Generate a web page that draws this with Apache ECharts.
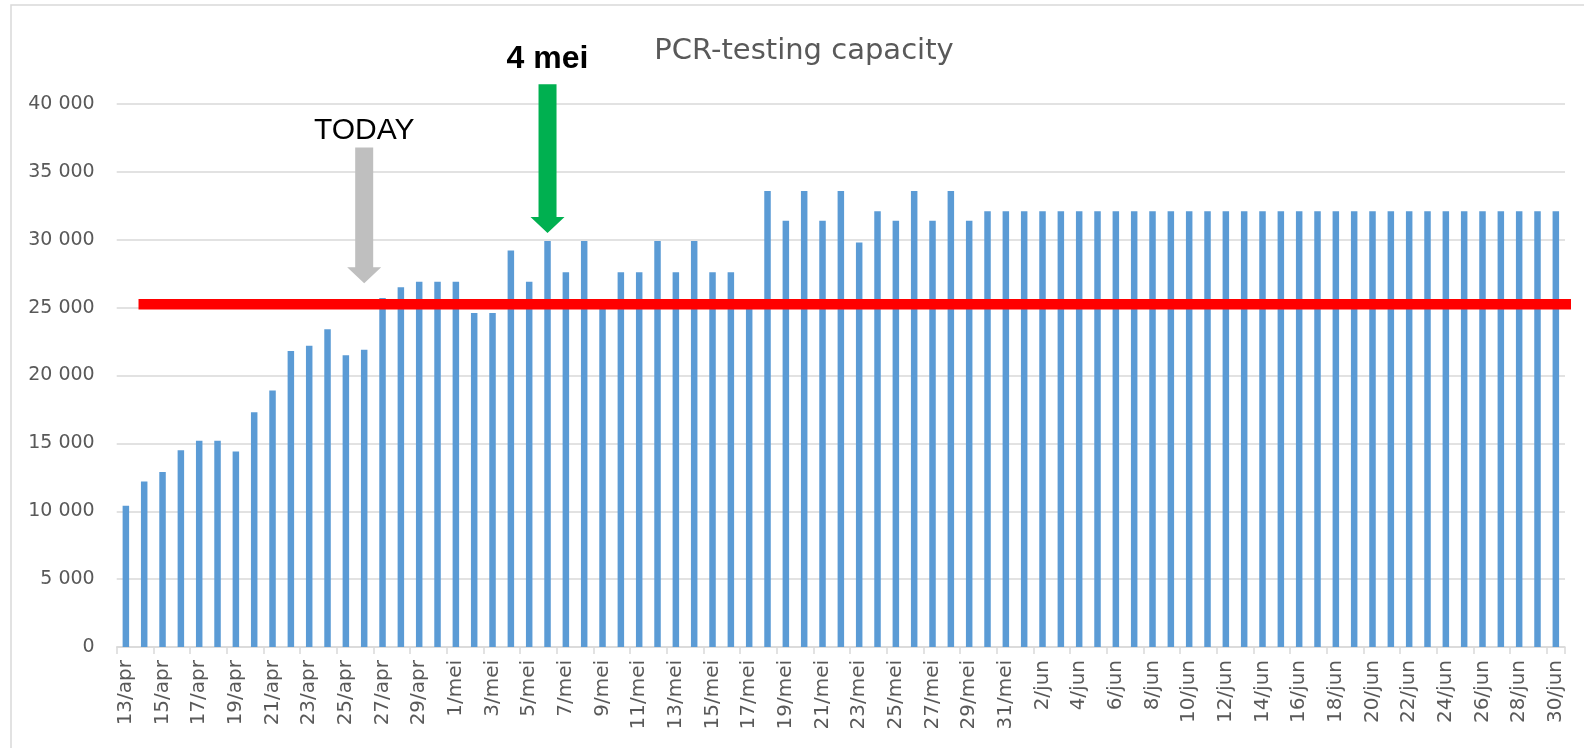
<!DOCTYPE html>
<html>
<head>
<meta charset="utf-8">
<script src="https://cdn.jsdelivr.net/npm/echarts@6/dist/echarts.min.js"></script>
<style>
html,body{margin:0;padding:0;background:#fff;}
#chart{width:1584px;height:748px;}
</style>
</head>
<body>
<div id="chart"></div>
<script>
// ---- data ----
const categories = [
  '13/apr','14/apr','15/apr','16/apr','17/apr','18/apr','19/apr','20/apr','21/apr','22/apr','23/apr','24/apr','25/apr','26/apr','27/apr','28/apr','29/apr','30/apr',
  '1/mei','2/mei','3/mei','4/mei','5/mei','6/mei','7/mei','8/mei','9/mei','10/mei','11/mei','12/mei','13/mei','14/mei','15/mei','16/mei','17/mei','18/mei','19/mei','20/mei','21/mei','22/mei','23/mei','24/mei','25/mei','26/mei','27/mei','28/mei','29/mei','30/mei','31/mei',
  '1/jun','2/jun','3/jun','4/jun','5/jun','6/jun','7/jun','8/jun','9/jun','10/jun','11/jun','12/jun','13/jun','14/jun','15/jun','16/jun','17/jun','18/jun','19/jun','20/jun','21/jun','22/jun','23/jun','24/jun','25/jun','26/jun','27/jun','28/jun','29/jun','30/jun'
];
const aprilValues = [10400,12200,12900,14500,15200,15200,14400,17300,18900,21800,22200,23400,21500,21900,25700,26500,26900,26900];
const mayValues = [26900,24600,24600,29200,26900,29900,27600,29900,25000,27600,27600,29900,27600,29900,27600,27600,25000,33600,31400,33600,31400,33600,29800,32100,31400,33600,31400,33600,31400,32100,32100];
const juneValues = [32100,32100,32100,32100,32100,32100,32100,32100,32100,32100,32100,32100,32100,32100,32100,32100,32100,32100,32100,32100,32100,32100,32100,32100,32100,32100,32100,32100,32100,32100];
const capacityValues = aprilValues.concat(mayValues, juneValues);

const yTicks = [0, 5000, 10000, 15000, 20000, 25000, 30000, 35000, 40000];
const titleText = 'PCR-testing capacity';

// reference (red) line: start position (category-index units) and level
const refLineStart = 0.69;
const refLineEnd = 80;
const refLineValue = 25250;

// arrows: category, top value, tip value, label
const arrowCategories = ['26/apr', '6/mei'];
const arrowTopValues = [36800, 41450];
const arrowTipValues = [26800, 30500];
const arrowLabels = ['TODAY', '4 mei'];

// ---- styles (not data) ----
const arrowStyles = [
  {fill: '#BFBFBF', font: '30px "Liberation Sans", Arial, sans-serif', labelDy: -17},
  {fill: '#00B050', font: 'bold 32px "Liberation Sans", Arial, sans-serif', labelDy: -25}
];

const fmt = v => String(v).replace(/\B(?=(\d{3})+(?!\d))/g, ' ');

const chart = echarts.init(document.getElementById('chart'), null, {renderer: 'canvas'});

const arrowData = arrowCategories.map((c, i) => [categories.indexOf(c), arrowTopValues[i], arrowTipValues[i], i]);

const option = {
  backgroundColor: '#ffffff',
  animation: false,
  title: {
    text: titleText,
    left: 799,
    top: 32,
    textAlign: 'center',
    textStyle: {fontFamily: 'DejaVu Sans', fontSize: 29, fontWeight: 'normal', color: '#595959'}
  },
  graphic: [{
    type: 'rect',
    shape: {x: 11, y: 5, width: 1700, height: 900},
    style: {fill: 'none', stroke: '#D9D9D9', lineWidth: 1.5},
    silent: true, z: -10
  }],
  grid: {left: 116.7, right: 19, top: 104, bottom: 101, containLabel: false},
  xAxis: [{
    type: 'category',
    data: categories,
    boundaryGap: true,
    axisLine: {lineStyle: {color: '#D9D9D9', width: 1.5}},
    axisTick: {show: true, interval: 1, length: 7, lineStyle: {color: '#D9D9D9', width: 1.5}},
    axisLabel: {interval: 1, rotate: 90, margin: 13, fontFamily: 'DejaVu Sans', fontSize: 20, color: '#595959'}
  }, {
    type: 'value',
    min: -0.5,
    max: categories.length - 0.5,
    show: false
  }],
  yAxis: {
    type: 'value',
    min: 0,
    max: 40000,
    interval: 5000,
    axisLine: {show: false},
    axisTick: {show: false},
    splitLine: {lineStyle: {color: '#D9D9D9', width: 1.5}},
    axisLabel: {margin: 22, fontFamily: 'DejaVu Sans', fontSize: 19, color: '#595959', formatter: v => fmt(v)}
  },
  series: [{
    name: titleText,
    type: 'bar',
    data: capacityValues,
    barWidth: 6.5,
    itemStyle: {color: '#5B9BD5'},
    z: 2
  }, {
    type: 'line',
    xAxisIndex: 1,
    yAxisIndex: 0,
    data: [[refLineStart, refLineValue], [refLineEnd, refLineValue]],
    symbol: 'none',
    clip: false,
    lineStyle: {color: '#FF0000', width: 10.5, cap: 'butt'},
    z: 5
  }, {
    type: 'custom',
    xAxisIndex: 0,
    yAxisIndex: 0,
    clip: false,
    data: arrowData,
    encode: {x: 0, y: 1},
    z: 6,
    renderItem: function (params, api) {
      const idx = api.value(3);
      const st = arrowStyles[idx];
      const top = api.coord([api.value(0), api.value(1)]);
      const tip = api.coord([api.value(0), api.value(2)]);
      const cx = top[0], ty = top[1], py = tip[1];
      const sw = 9, hw = 17, hl = 16;
      return {
        type: 'group',
        children: [{
          type: 'polygon',
          shape: {points: [
            [cx - sw, ty], [cx + sw, ty], [cx + sw, py - hl], [cx + hw, py - hl],
            [cx, py], [cx - hw, py - hl], [cx - sw, py - hl]
          ]},
          style: {fill: st.fill}
        }, {
          type: 'text',
          style: {
            text: arrowLabels[idx],
            x: cx, y: ty + st.labelDy,
            align: 'center', verticalAlign: 'middle',
            font: st.font, fill: '#000000'
          }
        }]
      };
    }
  }]
};
chart.setOption(option);
</script>
</body>
</html>
